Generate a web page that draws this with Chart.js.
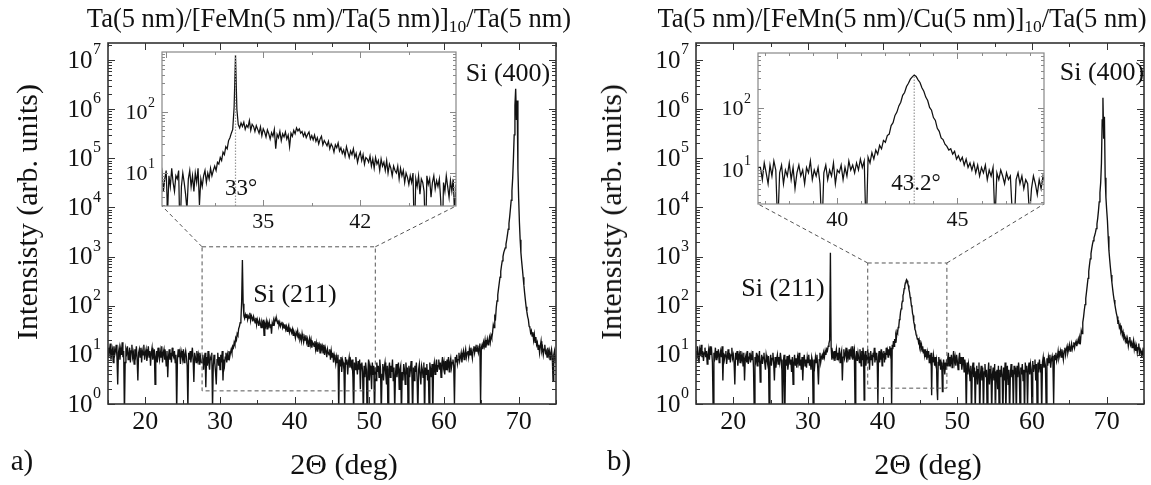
<!DOCTYPE html>
<html>
<head>
<meta charset="utf-8">
<script src="https://cdn.jsdelivr.net/npm/chart.js@4.4.1/dist/chart.umd.min.js"></script>
<style>
  body { margin: 0; background: #fff; width: 1151px; height: 485px; overflow: hidden; position: relative; font-family: 'Liberation Serif', 'Times New Roman', serif; color: #111; }
  canvas { position: absolute; }
  .t { position: absolute; white-space: nowrap; line-height: 1; transform: translate(-50%, -50%); }
  .t sub { font-size: 0.66em; vertical-align: -0.32em; line-height: 0; }
  .rot { transform: translate(-50%, -50%) rotate(-90deg); }
</style>
</head>
<body>
<canvas id="mainA" width="575" height="485" style="left:0;top:0"></canvas>
<canvas id="mainB" width="575" height="485" style="left:576px;top:0"></canvas>
<canvas id="insetA" width="370" height="200" style="left:100px;top:40px"></canvas>
<canvas id="insetB" width="370" height="200" style="left:690px;top:40px"></canvas>

<div class="t" style="left:329px;top:18px;font-size:26.5px">Ta(5 nm)/[FeMn(5 nm)/Ta(5 nm)]<sub>10</sub>/Ta(5 nm)</div>
<div class="t" style="left:902px;top:18px;font-size:26.5px">Ta(5 nm)/[FeMn(5 nm)/Cu(5 nm)]<sub>10</sub>/Ta(5 nm)</div>
<div class="t rot" style="left:27px;top:212px;font-size:30px">Intensisty (arb. units)</div>
<div class="t rot" style="left:611px;top:212px;font-size:30px">Intensisty (arb. units)</div>
<div class="t" style="left:344px;top:464px;font-size:30px">2&Theta; (deg)</div>
<div class="t" style="left:928px;top:464px;font-size:30px">2&Theta; (deg)</div>
<div class="t" style="left:22px;top:460px;font-size:29px">a)</div>
<div class="t" style="left:619px;top:460px;font-size:29px">b)</div>
<div class="t" style="left:295px;top:294px;font-size:26px">Si (211)</div>
<div class="t" style="left:508px;top:73px;font-size:26px">Si (400)</div>
<div class="t" style="left:783px;top:288px;font-size:26px">Si (211)</div>
<div class="t" style="left:1102px;top:72px;font-size:26px">Si (400)</div>
<div class="t" style="left:241px;top:187px;font-size:23px">33&deg;</div>
<div class="t" style="left:916px;top:182px;font-size:23px">43.2&deg;</div>

<script>
Chart.defaults.font.family = "'Liberation Serif', 'Times New Roman', serif";
Chart.defaults.color = '#111';

// ---- panel a: Ta(5 nm)/[FeMn/Ta]10/Ta  (2theta in deg, intensity in arb. units)
// each segment is read on a regular 2theta grid: start, step, values
const aStart = [15, 27.6, 49.2, 66.5, 72.5];
const aStep = [0.1, 0.1, 0.1, 0.1, 0.1];
const aSeg1 = [
  14, 9, 12, 17, 8, 11, 13, 7, 15, 10,
  12, 16, 9, 2.5, 11, 14, 8, 13, 10, 18,
  9, 12, 0.6, 7, 13, 11, 15, 8, 10, 14,
  7, 12, 16, 9, 11, 6.5, 13, 10, 15, 8,
  3, 11, 13, 9, 14, 7, 12, 10, 16, 8,
  11, 13, 7.5, 10, 15, 9, 12, 6, 11, 14,
  8, 10, 13, 2.5, 9, 12, 7, 14, 10, 8,
  12, 9, 15, 7, 11, 13, 8, 10, 6, 12,
  3.5, 9, 13, 8, 11, 7, 14, 10, 9, 12,
  7, 10, 0.7, 8, 13, 9, 11, 6.5, 12, 10,
  8, 13, 7, 10, 12, 9, 6, 0.8, 11, 8,
  12, 7, 10, 14, 8, 2.8, 11, 9, 7, 12,
  8, 10, 6.5, 11, 9, 7];
const aSeg2 = [
  7, 10, 5, 8, 11, 2.2, 9, 6, 12, 7,
  5, 9, 8, 11, 0.8, 6, 10, 7, 4.5, 2.5,
  8, 11, 6, 9, 5, 10, 7, 12, 3, 8,
  6, 9, 11, 7, 10, 8, 12, 9, 11, 13,
  11, 15, 14, 18, 16, 22, 20, 27, 25, 34,
  38, 45, 52, 120, 850, 110, 62, 55, 66, 58,
  68, 52, 61, 56, 72, 50, 63, 58, 48, 60,
  52, 45, 57, 41, 53, 47, 39, 51, 44, 36,
  46, 40, 52, 25, 43, 38, 48, 34, 44, 39,
  47, 36, 42, 27, 45, 40, 50, 44, 55, 49,
  53, 45, 48, 40, 46, 38, 43, 47, 36, 41,
  35, 42, 33, 38, 30, 36, 40, 29, 34, 31,
  28, 33, 25, 30, 27, 22, 29, 26, 31, 23,
  26, 21, 24, 19, 27, 22, 18, 23, 20, 25,
  18, 21, 15, 19, 22, 16, 20, 14, 18, 17,
  15, 19, 13, 17, 12, 18, 14, 16, 11, 17,
  13, 15, 11, 16, 10, 14, 12, 9, 13, 11,
  10, 13, 8, 12, 9, 11, 7, 10, 8.5, 6.5,
  9, 7, 10, 0.7, 8, 6, 9, 4.5, 8, 7,
  5, 0.8, 9, 6.5, 8, 4, 7, 9, 5.5, 7.5,
  6, 8, 3.5, 0.6, 7, 5, 9, 6, 4, 7.5,
  5, 8, 2, 6.5, 7, 4.5];
const aSeg3 = [
  0.5, 6, 3.5, 7, 5, 0.6, 4.5, 8, 3, 6,
  5, 2, 7, 4, 6, 0.5, 5.5, 3, 7, 4.5,
  6, 3.5, 8, 5, 0.6, 4, 6.5, 3, 5.5, 7,
  4, 2.5, 6, 0.5, 5, 7, 3.5, 6, 4.5, 8,
  3, 5.5, 0.7, 4, 6.5, 3.5, 5, 7, 2, 5,
  6, 0.5, 4.5, 3, 6.5, 5, 2.5, 7, 4, 5.5,
  0.6, 6, 3.5, 5, 7.5, 4, 0.5, 5.5, 3, 6,
  4.5, 7, 3, 0.6, 5, 6.5, 4, 2.5, 6, 5,
  3.5, 7, 0.5, 5.5, 4, 6.5, 3, 5, 0.8, 7,
  5, 3.5, 6.5, 0.6, 5.5, 7, 4, 6, 8, 4.5,
  6, 8, 5, 7, 3.5, 6.5, 9, 5.5, 7, 4,
  7.5, 5, 8, 6, 9, 4.5, 7, 8.5, 5.5, 7,
  8, 6, 1.0, 9, 7, 10, 6.5, 8, 11, 7.5,
  9, 11, 7, 10, 12, 8, 10.5, 13, 9, 11,
  12, 9, 13, 10, 14, 11, 8.5, 13, 15, 11,
  14, 12, 16, 13, 11, 15, 17, 1.0, 14, 16,
  13, 18, 15, 20, 14, 17, 21, 16, 19, 23,
  18, 25, 22];
const aSeg4 = [
  28, 41, 36, 60, 55, 92, 125, 165, 220, 290,
  380, 500, 650, 820, 1000, 1200, 1350, 1500, 1800, 2200,
  2800, 3600, 4700, 6500, 9500, 14000, 22000, 40000, 100000, 300000,
  1200000, 2600000, 600000, 1500000, 60000, 15000, 5000, 2200, 1200, 800,
  560, 380, 260, 180, 130, 95, 75, 60, 52, 38,
  36, 28, 31, 24, 29, 20, 26, 18, 23, 16];
const aSeg5 = [18, 13, 16, 11, 15, 19, 12, 14, 10, 13, 16, 11, 12, 9, 14, 10, 12, 8, 11, 13, 9, 3, 10, 12, 8, 10];

// ---- panel b: Ta(5 nm)/[FeMn/Cu]10/Ta
const bStart = [15, 36.8, 48.7, 66.4, 72.4];
const bStep = [0.1, 0.08, 0.1, 0.1, 0.1];
const bSeg1 = [
  12, 8, 15, 10, 7, 13, 11, 16, 9, 12,
  7.5, 11, 14, 9, 12, 6.5, 10, 13, 8, 15,
  10, 12, 7, 0.7, 11, 9, 14, 8, 12, 10,
  13, 7, 10, 12, 9, 15, 3, 11, 8, 10,
  12, 6.5, 9, 13, 8, 11, 7, 10, 14, 8.5,
  10, 7, 2.5, 11, 8, 12, 6, 9, 10.5, 7,
  12, 8, 9.5, 6, 11, 3, 8.5, 10, 7, 12,
  6.5, 9, 11, 7, 10, 8, 12, 5.5, 0.7, 9,
  7.5, 11, 6, 9, 8, 12, 2.8, 7, 10, 6.5,
  9, 11, 7, 5, 10, 8, 6.5, 9.5, 0.6, 7,
  10, 6, 8.5, 11, 7, 3, 9, 5.5, 8, 10,
  6.5, 9, 7, 11, 8, 5, 0.5, 7.5, 10, 0.6,
  8, 6, 9.5, 5, 7, 10, 6.5, 8, 4.5, 9,
  2.5, 7, 10, 6, 8.5, 5.5, 9, 7, 11, 6,
  8, 5, 9, 3, 7.5, 10, 6, 8, 5.5, 9,
  7, 10, 6, 8, 5, 9, 7.5, 0.6, 8, 6,
  9, 7, 10, 5.5, 2.5, 8, 11, 7, 9, 10,
  8, 11, 9, 12, 10, 13, 12, 15, 17, 20,
  1200, 14, 8, 11, 9, 12, 7.5, 10, 13, 8,
  11, 9, 14, 7, 10, 12, 3, 9, 13, 8.5,
  10, 14, 7, 11, 9, 13, 8, 12, 10, 15,
  8, 11, 13, 0.9, 9, 12, 7.5, 11];
const bSeg2 = [
  11, 7, 13, 9, 6, 12, 8, 14, 10, 1.2, 9, 12, 6, 10, 8, 13, 7, 11, 5, 9,
  12, 8, 10, 6, 11, 9, 14, 7, 10, 8, 11, 6, 1.0, 9, 12, 7, 10, 8, 13, 6,
  10, 9, 12, 7, 11, 8, 14, 10, 12, 9, 13, 10, 15, 11, 14, 0.9, 16, 13, 19, 15,
  21, 18, 25, 22, 30, 28, 36, 38, 52, 58, 76, 86, 108, 124, 160, 178, 222, 250, 292, 318,
  340, 322, 285, 258, 212, 186, 150, 132, 102, 92, 70, 63, 47, 42, 33, 31, 26, 24, 21, 22,
  18, 20, 15, 17, 14, 16, 12, 15, 11, 13, 10, 13, 9, 12, 8, 11, 9, 12, 7, 10,
  8, 11, 1.5, 9, 7, 10, 8, 6, 9, 7, 8, 2, 1.2, 7, 9, 6, 8, 5, 7, 6,
  1.8, 5, 8, 6, 4, 7, 5, 8, 6];
const bSeg3 = [
  8, 11, 6, 9, 7, 10, 5.5, 8, 12, 7,
  9, 6, 10, 7.5, 5, 8, 11, 6.5, 9, 5,
  7, 9, 4.5, 8, 6, 0.6, 7, 4, 6.5, 5,
  3, 6, 0.5, 5, 7, 3.5, 5.5, 0.7, 4.5, 6,
  2.5, 5, 7, 0.5, 4, 6, 3, 5.5, 0.6, 4.5,
  6.5, 3.5, 5, 0.5, 4, 7, 2.5, 5, 6, 0.6,
  4, 5.5, 3, 6.5, 0.5, 4.5, 5, 2, 6, 0.7,
  5, 3.5, 6, 4, 0.5, 5.5, 3, 7, 0.6, 4.5,
  6, 2.5, 5, 0.5, 4, 6.5, 3.5, 5, 0.7, 6,
  4, 5.5, 0.5, 6, 3.5, 7, 4.5, 0.6, 5.5, 4,
  6.5, 3, 5, 0.5, 7, 4.5, 6, 0.8, 5, 7,
  4, 6.5, 5, 0.6, 7.5, 4.5, 6, 8, 3, 6.5,
  0.5, 7, 5.5, 8, 4.5, 6.5, 0.6, 7, 9, 5.5,
  7.5, 6, 0.7, 8.5, 6, 9, 7, 10, 5.5, 8,
  9.5, 7, 1.0, 10, 8, 11, 7.5, 9, 12, 8.5,
  10, 12, 9, 13, 10.5, 8, 12, 14, 10, 13,
  15, 11, 13, 16, 12, 14, 17, 13, 15, 18,
  14, 17, 19, 15, 18, 21, 17];
const bSeg4 = [
  22, 19, 31, 27, 46, 58, 80, 105, 140, 190,
  260, 360, 500, 680, 900, 1150, 1450, 1800, 2100, 2400,
  2700, 3100, 3700, 4600, 6000, 8500, 13000, 20000, 32000, 80000,
  600000, 1700000, 250000, 700000, 40000, 16000, 9000, 5500, 2600, 1350,
  880, 600, 420, 300, 220, 165, 130, 105, 85, 70,
  60, 46, 48, 36, 40, 30, 34, 25, 29, 22];
const bSeg5 = [24, 19, 22, 17, 21, 15, 19, 23, 16, 18, 14, 17, 20, 13, 16, 12, 15, 11, 14, 17, 10, 13, 12, 9, 11, 14, 6];

// axis ticks
const mainXTicks = [20, 30, 40, 50, 60, 70];
const mainYExp = [0, 1, 2, 3, 4, 5, 6, 7];
const insetAXTicks = [35, 42];
const insetBXTicks = [40, 45];
const insetYExp = [1, 2];

function toPoints(starts, steps, segs) {
  const pts = [];
  segs.forEach((ys, k) => {
    ys.forEach((v, i) => pts.push({ x: +(starts[k] + i * steps[k]).toFixed(3), y: v }));
  });
  return pts;
}
const pointsA = toPoints(aStart, aStep, [aSeg1, aSeg2, aSeg3, aSeg4, aSeg5]);
const pointsB = toPoints(bStart, bStep, [bSeg1, bSeg2, bSeg3, bSeg4, bSeg5]);

// frame, inward ticks, 10^n labels, zoom box, marker line
function framePlugin(cfg) {
  return {
    id: 'frame',
    beforeDatasetsDraw(chart) {
      const { ctx, chartArea: a } = chart;
      if (!cfg.fill) return;
      ctx.save();
      ctx.fillStyle = '#fff';
      ctx.fillRect(a.left, a.top, a.right - a.left, a.bottom - a.top);
      ctx.restore();
    },
    afterDatasetsDraw(chart) {
      const { ctx, chartArea: a, scales: { x, y } } = chart;
      ctx.save();
      if (cfg.zoomBox) {
        const z = cfg.zoomBox;
        const l = x.getPixelForValue(z.x0), r = x.getPixelForValue(z.x1);
        const t = y.getPixelForValue(z.y1), b = y.getPixelForValue(z.y0);
        ctx.strokeStyle = '#555';
        ctx.lineWidth = 1;
        ctx.setLineDash([4, 3]);
        ctx.strokeRect(l, t, r - l, b - t);
        ctx.beginPath();
        ctx.moveTo(l, t); ctx.lineTo(z.cl[0], z.cl[1]);
        ctx.moveTo(r, t); ctx.lineTo(z.cr[0], z.cr[1]);
        ctx.stroke();
        ctx.setLineDash([]);
      }
      if (cfg.marker) {
        const px = x.getPixelForValue(cfg.marker.x);
        ctx.strokeStyle = '#999';
        ctx.lineWidth = 1.2;
        ctx.setLineDash([1.5, 1.5]);
        ctx.beginPath();
        ctx.moveTo(px, a.bottom);
        ctx.lineTo(px, y.getPixelForValue(cfg.marker.y));
        ctx.stroke();
        ctx.setLineDash([]);
      }
      // box
      ctx.strokeStyle = cfg.boxColor;
      ctx.lineWidth = cfg.boxWidth;
      ctx.strokeRect(a.left, a.top, a.right - a.left, a.bottom - a.top);
      // x ticks
      ctx.lineWidth = 1;
      ctx.beginPath();
      for (let v = cfg.xTickFrom; v <= x.max + 1e-6; v += cfg.xTickStep) {
        if (v < x.min) continue;
        const px = Math.round(x.getPixelForValue(v)) + 0.5;
        const major = cfg.xMajor.includes(Math.round(v * 100) / 100);
        const len = major ? cfg.tMaj : cfg.tMin;
        ctx.moveTo(px, a.bottom); ctx.lineTo(px, a.bottom - len);
        ctx.moveTo(px, a.top); ctx.lineTo(px, a.top + len);
      }
      // y ticks (log)
      for (let e = Math.floor(Math.log10(y.min)); e <= Math.ceil(Math.log10(y.max)); e++) {
        for (let m = 1; m < 10; m++) {
          const v = m * Math.pow(10, e);
          if (v < y.min || v > y.max) continue;
          const py = Math.round(y.getPixelForValue(v)) + 0.5;
          const len = m === 1 ? cfg.tMaj : cfg.tMin;
          ctx.moveTo(a.left, py); ctx.lineTo(a.left + len, py);
          ctx.moveTo(a.right, py); ctx.lineTo(a.right - len, py);
        }
      }
      ctx.stroke();
      // y labels 10^n
      ctx.fillStyle = '#111';
      ctx.textBaseline = 'middle';
      ctx.textAlign = 'right';
      cfg.yExp.forEach(e => {
        const py = y.getPixelForValue(Math.pow(10, e));
        const xr = a.left - cfg.lblGap;
        ctx.font = cfg.supSize + "px 'Liberation Serif'";
        const ew = ctx.measureText(String(e)).width;
        ctx.fillText(String(e), xr, py - cfg.supRise);
        ctx.font = cfg.lblSize + "px 'Liberation Serif'";
        ctx.fillText('10', xr - ew - 0.5, py + 1);
      });
      ctx.restore();
    }
  };
}

function makeChart(id, points, o) {
  return new Chart(document.getElementById(id), {
    type: 'line',
    data: {
      datasets: [{
        data: points,
        borderColor: '#111',
        borderWidth: o.lineWidth,
        pointRadius: 0,
        tension: 0
      }]
    },
    options: {
      responsive: false,
      animation: false,
      devicePixelRatio: 1,
      layout: { padding: o.padding },
      plugins: { legend: { display: false }, tooltip: { enabled: false } },
      scales: {
        x: {
          type: 'linear',
          min: o.xMin,
          max: o.xMax,
          afterBuildTicks: s => { s.ticks = o.xTicks.map(v => ({ value: v })); },
          afterFit: s => { s.height = o.xAxisH; },
          grid: { display: false, drawTicks: false },
          border: { display: false },
          ticks: { font: { size: o.tickSize }, color: '#111', padding: o.tickPad, maxRotation: 0, autoSkip: false }
        },
        y: {
          type: 'logarithmic',
          min: o.yMin,
          max: o.yMax,
          afterFit: s => { s.width = o.yAxisW; },
          grid: { display: false, drawTicks: false },
          border: { display: false },
          ticks: { display: false }
        }
      }
    },
    plugins: [framePlugin(o.frame)]
  });
}

const mainFrame = { boxColor: '#333', boxWidth: 1.6, tMaj: 7, tMin: 4, xTickFrom: 15, xTickStep: 5, xMajor: mainXTicks,
  yExp: mainYExp, lblGap: 7, lblSize: 25, supSize: 16, supRise: 10 };

makeChart('mainA', pointsA, {
  lineWidth: 1.35, padding: { top: 43, right: 19, left: 0, bottom: 0 },
  xMin: 15, xMax: 75, xTicks: mainXTicks, xAxisH: 81, tickSize: 26, tickPad: 3,
  yMin: 1, yMax: Math.pow(10, 7.346), yAxisW: 108,
  frame: Object.assign({}, mainFrame, {
    zoomBox: { x0: 27.6, x1: 50.8, y0: 1.85, y1: 1580, cl: [162, 206], cr: [456, 206] }
  })
});

makeChart('mainB', pointsB, {
  lineWidth: 1.35, padding: { top: 43, right: 7, left: 0, bottom: 0 },
  xMin: 15, xMax: 75, xTicks: mainXTicks, xAxisH: 81, tickSize: 26, tickPad: 3,
  yMin: 1, yMax: Math.pow(10, 7.346), yAxisW: 120,
  frame: Object.assign({}, mainFrame, {
    zoomBox: { x0: 38.0, x1: 48.6, y0: 2.1, y1: 740, cl: [758 - 576, 204], cr: [1044 - 576, 204] }
  })
});

const insetFrame = { fill: true, boxColor: '#888', boxWidth: 1.2, tMaj: 6, tMin: 3,
  yExp: insetYExp, lblGap: 7, lblSize: 22, supSize: 14, supRise: 9 };

makeChart('insetA', pointsA, {
  lineWidth: 1.25, padding: { top: 12, right: 14, left: 0, bottom: 0 },
  xMin: 27.7, xMax: 48.9, xTicks: insetAXTicks, xAxisH: 34, tickSize: 22, tickPad: 3,
  yMin: 2.88, yMax: 964, yAxisW: 62,
  frame: Object.assign({}, insetFrame, { xTickFrom: 28, xTickStep: 3.5, xMajor: [28, 35, 42, 49], marker: { x: 33.0, y: 850 } })
});

makeChart('insetB', pointsB, {
  lineWidth: 1.25, padding: { top: 13, right: 16, left: 0, bottom: 0 },
  xMin: 36.7, xMax: 48.6, xTicks: insetBXTicks, xAxisH: 36, tickSize: 22, tickPad: 3,
  yMin: 2.83, yMax: 771, yAxisW: 68,
  frame: Object.assign({}, insetFrame, { xTickFrom: 37, xTickStep: 1, xMajor: [40, 45], marker: { x: 43.2, y: 340 } })
});
</script>
</body>
</html>
